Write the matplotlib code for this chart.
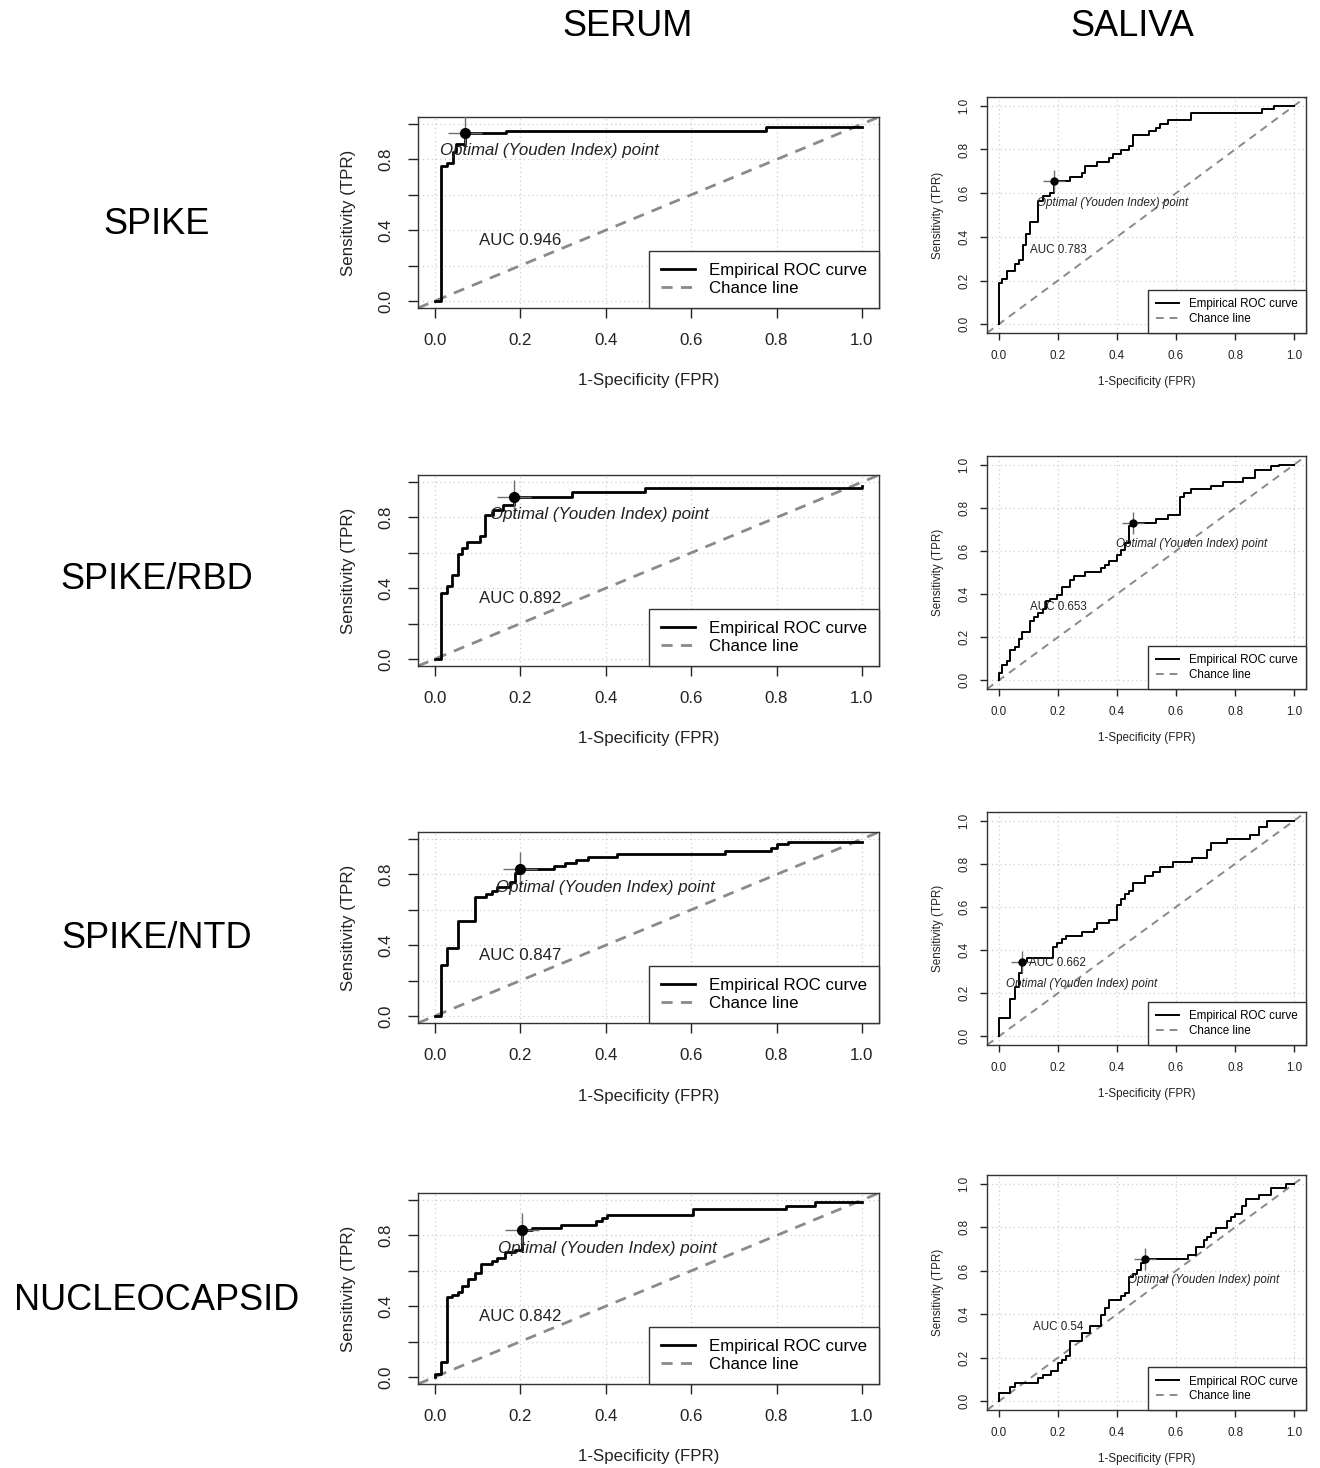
import matplotlib

matplotlib.use("Agg")
import matplotlib.pyplot as plt
from matplotlib.lines import Line2D

plt.rcParams["font.family"] = ["Liberation Sans", "DejaVu Sans"]

# ---- data --------------------------------------------------------------
antigens = ["SPIKE", "SPIKE/RBD", "SPIKE/NTD", "NUCLEOCAPSID"]
columns = ["SERUM", "SALIVA"]

# serum ROC corner points (FPR, TPR)
serum_spike_fpr = [0, 0.015, 0.0275, 0.042, 0.048, 0.069, 0.167, 0.776, 1.0]
serum_spike_tpr = [0, 0.763, 0.78, 0.84, 0.89, 0.949, 0.962, 0.985, 0.985]

serum_rbd_fpr = [0, 0.015, 0.0275, 0.04, 0.0526, 0.064, 0.075, 0.106, 0.118, 0.136,
                 0.159, 0.186, 0.32, 0.4925, 1.0]
serum_rbd_tpr = [0, 0.374, 0.41, 0.477, 0.592, 0.63, 0.662, 0.694, 0.813, 0.842,
                 0.87, 0.917, 0.946, 0.964, 0.975]

serum_ntd_fpr = [0, 0.015, 0.0275, 0.0526, 0.0935, 0.119, 0.1336, 0.146, 0.175, 0.188,
                 0.2, 0.278, 0.305, 0.331, 0.359, 0.426, 0.679, 0.787, 0.801, 0.826, 1.0]
serum_ntd_tpr = [0, 0.29, 0.383, 0.536, 0.673, 0.692, 0.707, 0.73, 0.758, 0.806,
                 0.828, 0.847, 0.866, 0.88, 0.9, 0.916, 0.933, 0.952, 0.97, 0.986, 0.986]

serum_nuc_fpr = [0, 0, 0.015, 0.0275, 0.04, 0.0526, 0.064, 0.077, 0.094, 0.108, 0.134,
                 0.146, 0.163, 0.188, 0.203, 0.228, 0.296, 0.378, 0.39, 0.403, 0.605,
                 0.822, 0.889, 1.0]
serum_nuc_tpr = [0, 0.015, 0.085, 0.45, 0.463, 0.482, 0.514, 0.552, 0.586, 0.637, 0.656,
                 0.671, 0.709, 0.718, 0.828, 0.842, 0.86, 0.88, 0.9, 0.918, 0.949,
                 0.968, 0.987, 0.987]

# saliva ROC corner points (FPR, TPR)
saliva_spike_fpr = [0, 0, 0.0124, 0.028, 0.055, 0.069, 0.082, 0.0936, 0.105, 0.133, 0.148,
                    0.172, 0.187, 0.24, 0.28, 0.293, 0.334, 0.373, 0.387, 0.415, 0.441,
                    0.454, 0.508, 0.533, 0.547, 0.573, 0.652, 0.892, 0.933, 1.0]
saliva_spike_tpr = [0, 0.189, 0.209, 0.243, 0.276, 0.295, 0.364, 0.415, 0.468, 0.566, 0.586,
                    0.601, 0.656, 0.674, 0.69, 0.726, 0.744, 0.76, 0.78, 0.798, 0.814,
                    0.864, 0.884, 0.899, 0.918, 0.933, 0.969, 0.984, 1.0, 1.0]

saliva_rbd_fpr = [0, 0, 0.0124, 0.028, 0.039, 0.056, 0.069, 0.08, 0.105, 0.12, 0.133, 0.148,
                  0.159, 0.172, 0.198, 0.214, 0.24, 0.254, 0.293, 0.345, 0.358, 0.373,
                  0.4, 0.415, 0.426, 0.44, 0.454, 0.533, 0.573, 0.612, 0.626, 0.652,
                  0.719, 0.759, 0.826, 0.866, 0.92, 0.947, 1.0]
saliva_rbd_tpr = [0, 0.036, 0.07, 0.09, 0.139, 0.155, 0.19, 0.224, 0.275, 0.294, 0.314, 0.332,
                  0.37, 0.379, 0.394, 0.433, 0.464, 0.484, 0.502, 0.521, 0.536, 0.551,
                  0.583, 0.605, 0.638, 0.716, 0.731, 0.75, 0.765, 0.85, 0.869, 0.886,
                  0.901, 0.92, 0.938, 0.974, 0.992, 1.0, 1.0]

saliva_ntd_fpr = [0, 0, 0.039, 0.056, 0.069, 0.08, 0.094, 0.184, 0.198, 0.214, 0.227, 0.28,
                  0.321, 0.334, 0.373, 0.4, 0.415, 0.428, 0.441, 0.454, 0.494, 0.522,
                  0.547, 0.59, 0.655, 0.705, 0.719, 0.772, 0.849, 0.88, 0.908, 1.0]
saliva_ntd_tpr = [0, 0.085, 0.174, 0.231, 0.293, 0.344, 0.363, 0.414, 0.431, 0.453, 0.465,
                  0.484, 0.499, 0.524, 0.538, 0.608, 0.639, 0.659, 0.674, 0.709, 0.743,
                  0.763, 0.783, 0.809, 0.829, 0.864, 0.898, 0.913, 0.933, 0.969, 1.0, 1.0]

saliva_nuc_fpr = [0, 0, 0.039, 0.054, 0.133, 0.148, 0.175, 0.2, 0.214, 0.227, 0.24, 0.28,
                  0.308, 0.345, 0.358, 0.373, 0.415, 0.426, 0.44, 0.454, 0.468, 0.48,
                  0.494, 0.64, 0.666, 0.693, 0.706, 0.719, 0.734, 0.772, 0.787, 0.798,
                  0.824, 0.838, 0.88, 0.92, 0.973, 1.0]
saliva_nuc_tpr = [0, 0.036, 0.067, 0.085, 0.105, 0.121, 0.141, 0.175, 0.191, 0.209, 0.276,
                  0.312, 0.346, 0.395, 0.431, 0.465, 0.482, 0.5, 0.57, 0.586, 0.602,
                  0.636, 0.656, 0.674, 0.71, 0.741, 0.757, 0.775, 0.795, 0.829, 0.845,
                  0.86, 0.896, 0.93, 0.947, 0.981, 1.0, 1.0]

serum_auc = ["0.946", "0.892", "0.847", "0.842"]
saliva_auc = ["0.783", "0.653", "0.662", "0.54"]

serum_opt_fpr = [0.069, 0.186, 0.2, 0.203]
serum_opt_tpr = [0.949, 0.917, 0.828, 0.828]
saliva_opt_fpr = [0.187, 0.454, 0.08, 0.494]
saliva_opt_tpr = [0.656, 0.731, 0.344, 0.656]

serum_curves = [(serum_spike_fpr, serum_spike_tpr), (serum_rbd_fpr, serum_rbd_tpr),
                (serum_ntd_fpr, serum_ntd_tpr), (serum_nuc_fpr, serum_nuc_tpr)]
saliva_curves = [(saliva_spike_fpr, saliva_spike_tpr), (saliva_rbd_fpr, saliva_rbd_tpr),
                 (saliva_ntd_fpr, saliva_ntd_tpr), (saliva_nuc_fpr, saliva_nuc_tpr)]

ticks = [0.0, 0.2, 0.4, 0.6, 0.8, 1.0]
tick_labels = ["0.0", "0.2", "0.4", "0.6", "0.8", "1.0"]
serum_ytick_labels = ["0.0", "", "0.4", "", "0.8", ""]

# ---- layout (pixel boxes of the panels) --------------------------------
W, H = 1320, 1468
serum_x = (418, 879)
serum_y = [(117, 308), (475, 666), (832, 1023), (1193, 1384)]
saliva_x = (987, 1306)
saliva_y = [(97, 333), (456, 689), (812, 1045), (1175, 1410)]
row_label_y = [224, 580, 938, 1300]

fig = plt.figure(figsize=(W / 100, H / 100), dpi=100)


def rect(x, y):
    return [x[0] / W, 1 - y[1] / H, (x[1] - x[0]) / W, (y[1] - y[0]) / H]


def roc_panel(ax, fpr, tpr, opt, auc, big):
    fs = 12.2 if big else 8.4
    lw = 2.0 if big else 1.4
    w_px = (ax.get_position().width) * W
    h_px = (ax.get_position().height) * H
    ax.set_xlim(-0.04, 1.04)
    ax.set_ylim(-0.04, 1.04)
    ax.grid(True, color="#cfcfcf", linestyle=(0, (1, 2.5)), linewidth=0.9)
    ax.set_axisbelow(True)
    ax.axline((0, 0), slope=1, color="#8a8a8a", linewidth=lw, dashes=(4, 3), zorder=2)
    ax.plot(fpr, tpr, drawstyle="steps-post", color="black", linewidth=lw, zorder=3)
    ax.plot(opt[0], opt[1], marker="+", markersize=24 if big else 16.5,
            color="#6f6f6f", markeredgewidth=1.0, zorder=4)
    ax.plot(opt[0], opt[1], marker="o", markersize=7 if big else 5, color="black", zorder=5)
    ax.text(opt[0] + 0.2, opt[1] - 0.1, "Optimal (Youden Index) point", style="italic",
            ha="center", va="center", fontsize=fs, color="#222222", zorder=6)
    ax.text(0.2, 0.34, f"AUC {auc}", ha="center", va="center", fontsize=fs,
            color="#222222", zorder=6)

    ax.set_xticks(ticks)
    ax.set_xticklabels(tick_labels)
    ax.set_yticks(ticks)
    ax.set_yticklabels(serum_ytick_labels if big else tick_labels, rotation=90, va="center")
    ax.tick_params(direction="out", length=7 if big else 5, width=1.0, labelsize=fs,
                   pad=11 if big else 7, colors="#222222")
    for s in ax.spines.values():
        s.set_color("#333333")
        s.set_linewidth(1.0)

    ax.set_xlabel("1-Specificity (FPR)", fontsize=fs, va="center", color="#222222")
    ax.xaxis.set_label_coords(0.5, -(73 if big else 49) / h_px)
    ax.set_ylabel("Sensitivity (TPR)", fontsize=fs, va="center", color="#222222")
    ax.yaxis.set_label_coords(-(70 if big else 49) / w_px, 0.5)

    handles = [Line2D([], [], color="black", linewidth=lw),
               Line2D([], [], color="#8a8a8a", linewidth=lw, dashes=(4, 3))]
    leg = ax.legend(handles, ["Empirical ROC curve", "Chance line"], loc="lower right",
                    borderaxespad=0, fancybox=False, framealpha=1, edgecolor="#333333",
                    fontsize=fs, handlelength=2.0, handletextpad=0.85,
                    borderpad=0.7, labelspacing=0.2)
    leg.get_frame().set_linewidth(1.0)
    leg.set_zorder(10)


for i in range(4):
    ax = fig.add_axes(rect(serum_x, serum_y[i]))
    roc_panel(ax, *serum_curves[i], (serum_opt_fpr[i], serum_opt_tpr[i]), serum_auc[i], True)
    ax = fig.add_axes(rect(saliva_x, saliva_y[i]))
    roc_panel(ax, *saliva_curves[i], (saliva_opt_fpr[i], saliva_opt_tpr[i]), saliva_auc[i], False)
    fig.text(157 / W, 1 - row_label_y[i] / H, antigens[i], fontsize=26, ha="center", va="center")

fig.text(628 / W, 1 - 26 / H, columns[0], fontsize=26, ha="center", va="center")
fig.text(1132 / W, 1 - 26 / H, columns[1], fontsize=26, ha="center", va="center")

fig.savefig("out.png", dpi=100, facecolor="white")
